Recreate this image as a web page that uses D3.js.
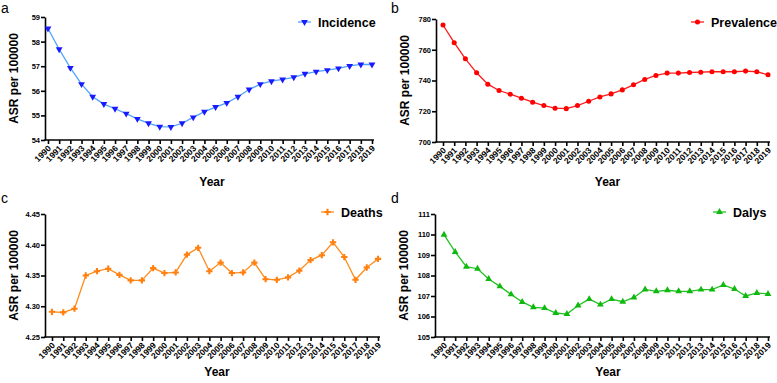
<!DOCTYPE html>
<html>
<head>
<meta charset="utf-8">
<script src="https://cdn.jsdelivr.net/npm/d3@7"></script>
<style>
  body { margin: 0; background: #fff; }
  text { font-family: Arial, "Liberation Sans", sans-serif; }
</style>
</head>
<body>
<div id="chart"></div>
<script>
// years shared by every panel
var years = d3.range(1990, 2020);

// ASR per 100000
var incidence = [58.53, 57.69, 56.93, 56.27, 55.76, 55.46, 55.27, 55.07, 54.86, 54.68,
  54.54, 54.53, 54.68, 54.92, 55.15, 55.34, 55.51, 55.76, 56.05, 56.27,
  56.39, 56.46, 56.55, 56.69, 56.78, 56.84, 56.91, 57.01, 57.07, 57.07];
var prevalence = [776.1, 764.6, 754.1, 745.0, 737.6, 733.5, 731.1, 728.5, 725.9, 723.7,
  722.0, 721.7, 723.7, 726.5, 729.3, 731.3, 733.9, 737.2, 740.7, 743.3,
  744.8, 744.8, 745.2, 745.4, 745.7, 745.7, 745.7, 746.1, 745.7, 743.7];
var deaths = [4.291, 4.290, 4.296, 4.350, 4.357, 4.361, 4.351, 4.342, 4.342, 4.362,
  4.354, 4.355, 4.384, 4.395, 4.357, 4.371, 4.354, 4.355, 4.371, 4.344,
  4.343, 4.347, 4.358, 4.375, 4.383, 4.404, 4.380, 4.343, 4.363, 4.377];
var dalys = [109.99, 109.15, 108.43, 108.33, 107.83, 107.47, 107.08, 106.71, 106.45, 106.41,
  106.17, 106.12, 106.54, 106.85, 106.58, 106.85, 106.72, 106.93, 107.32, 107.23,
  107.28, 107.23, 107.23, 107.31, 107.31, 107.54, 107.34, 107.00, 107.15, 107.10];

// y tick values per panel
var incidenceTicks = [54, 55, 56, 57, 58, 59];
var prevalenceTicks = [700, 720, 740, 760, 780];
var deathsTicks = [4.25, 4.30, 4.35, 4.40, 4.45];
var dalysTicks = [105, 106, 107, 108, 109, 110, 111];

var svg = d3.select("#chart").append("svg")
  .attr("width", 777)
  .attr("height", 383);

var panels = [
  {letter: "a", name: "Incidence", values: incidence, ticks: incidenceTicks, fmt: d3.format("d"),
   left: 0, axisX: 45, xr: [48, 372], yr: [140, 17], top: 0, line: "#4fa3ff", mark: "#1a1aff",
   symbol: d3.symbolTriangle, rot: 180, leg: 298},
  {letter: "b", name: "Prevalence", values: prevalence, ticks: prevalenceTicks, fmt: d3.format("d"),
   left: 390, axisX: 436, xr: [443, 768], yr: [142, 19], top: 0, line: "#ff1a1a", mark: "#ff0000",
   symbol: d3.symbolCircle, rot: 0, leg: 691},
  {letter: "c", name: "Deaths", values: deaths, ticks: deathsTicks, fmt: d3.format(".2f"),
   left: 0, axisX: 45, xr: [52, 378], yr: [337, 214], top: 190, line: "#ff8c1a", mark: "#ff8010",
   symbol: d3.symbolCross, rot: 0, leg: 321},
  {letter: "d", name: "Dalys", values: dalys, ticks: dalysTicks, fmt: d3.format("d"),
   left: 390, axisX: 435, xr: [444, 768], yr: [337, 214], top: 190, line: "#22c322", mark: "#10b810",
   symbol: d3.symbolTriangle, rot: 0, leg: 713}
];

panels.forEach(function(p) {
  var x = d3.scaleLinear().domain([1990, 2019]).range(p.xr);
  var y = d3.scaleLinear().domain([p.ticks[0], p.ticks[p.ticks.length - 1]]).range(p.yr);
  var g = svg.append("g");
  var baseY = p.yr[0];

  // panel letter
  g.append("text").attr("x", p.left + 1).attr("y", p.top + 13)
    .style("font-size", "14px").text(p.letter);

  // y axis
  var yAxis = g.append("g").attr("transform", "translate(" + p.axisX + ",0)")
    .call(d3.axisLeft(y).tickValues(p.ticks).tickFormat(p.fmt).tickSize(4).tickSizeOuter(0));
  yAxis.selectAll("path, line").attr("stroke", "#000").attr("stroke-width", 1.6);
  yAxis.selectAll("text").style("font-size", "7.5px").style("font-weight", "bold")
    .style("font-family", "Arial, 'Liberation Sans', sans-serif").attr("x", -5);

  // x axis
  var xAxis = g.append("g").attr("transform", "translate(0," + baseY + ")")
    .call(d3.axisBottom(x).tickValues(years).tickFormat(d3.format("d")).tickSize(4).tickSizeOuter(0));
  xAxis.select(".domain").remove();
  xAxis.selectAll("line").attr("stroke", "#000").attr("stroke-width", 1.6);
  xAxis.selectAll("text")
    .style("font-size", "8.5px").style("font-weight", "bold")
    .style("font-family", "Arial, 'Liberation Sans', sans-serif")
    .attr("text-anchor", "end").attr("dy", null).attr("y", 0)
    .attr("transform", "translate(3,9) rotate(-45)");
  g.append("line")
    .attr("x1", p.axisX - 0.8).attr("x2", p.xr[1] + 2)
    .attr("y1", baseY).attr("y2", baseY)
    .attr("stroke", "#000").attr("stroke-width", 1.6);

  // axis titles
  g.append("text")
    .attr("text-anchor", "middle")
    .style("font-size", "12px").style("font-weight", "bold")
    .text("ASR per 100000")
    .attr("transform", "translate(" + (p.axisX - 27) + "," + ((p.yr[0] + p.yr[1]) / 2) + ") rotate(-90)");
  g.append("text")
    .attr("x", (p.xr[0] + p.xr[1]) / 2 + 2).attr("y", p.top + 186)
    .attr("text-anchor", "middle")
    .style("font-size", "12px").style("font-weight", "bold")
    .text("Year");

  // line
  var line = d3.line().x(function(d, i) { return x(years[i]); }).y(function(d) { return y(d); });
  g.append("path").datum(p.values)
    .attr("fill", "none").attr("stroke", p.line).attr("stroke-width", 1.3)
    .attr("d", line);

  // markers
  var sym = d3.symbol().type(p.symbol).size(p.symbol === d3.symbolCross ? 22 : 20);
  g.selectAll(".pt").data(p.values).join("path")
    .attr("class", "pt")
    .attr("d", sym)
    .attr("fill", p.mark)
    .attr("transform", function(d, i) {
      return "translate(" + x(years[i]) + "," + y(d) + ") rotate(" + p.rot + ")";
    });

  // legend
  var ly = p.top + 22;
  g.append("line").attr("x1", p.leg).attr("x2", p.leg + 13).attr("y1", ly).attr("y2", ly)
    .attr("stroke", p.line).attr("stroke-width", 1.3);
  g.append("path").attr("d", sym).attr("fill", p.mark)
    .attr("transform", "translate(" + (p.leg + 6.5) + "," + ly + ") rotate(" + p.rot + ")");
  g.append("text").attr("x", p.leg + 20).attr("y", ly + 4.5)
    .style("font-size", "12.5px").style("font-weight", "bold")
    .text(p.name);
});
</script>
</body>
</html>
